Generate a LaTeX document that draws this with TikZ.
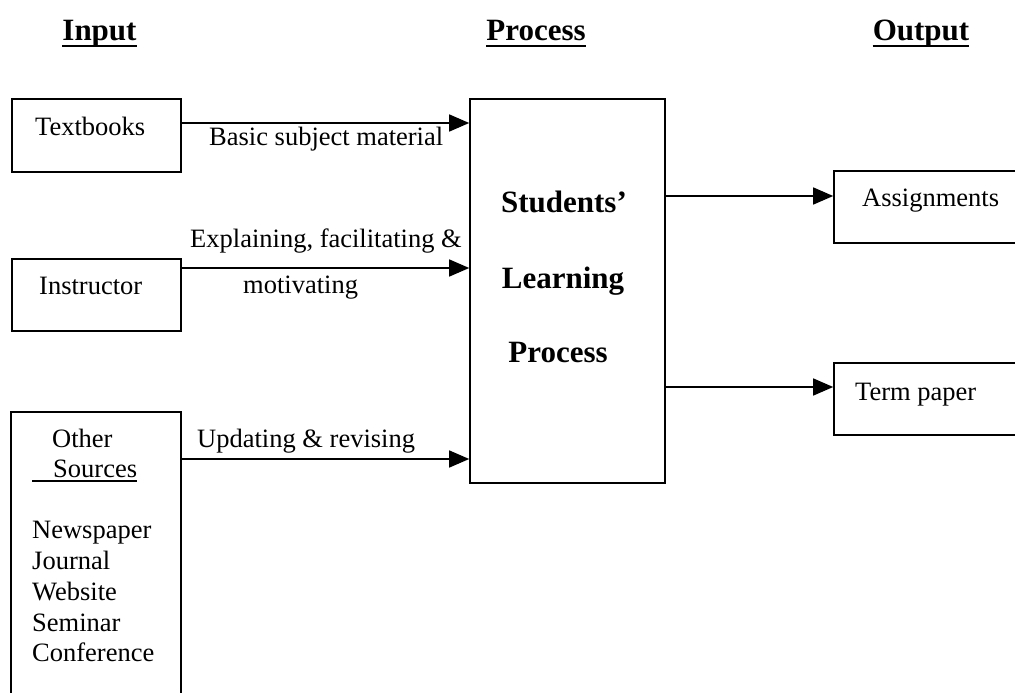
\documentclass[tikz,border=0pt]{standalone}
\usepackage{fontspec}
\setmainfont{Liberation Serif}
\usetikzlibrary{arrows.meta,calc}
\begin{document}
\begin{tikzpicture}[x=1pt,y=-1pt,
  box/.style={draw,line width=1.6pt,rectangle,inner sep=0pt},
  txt/.style={inner sep=0pt,font=\fontsize{26.5}{31}\selectfont},
  head/.style={inner sep=0pt,anchor=base,font=\fontsize{31}{36}\selectfont\bfseries},
  big/.style={inner sep=0pt,anchor=base,font=\fontsize{31}{36}\selectfont\bfseries},
  arr/.style={line width=1.4pt,-{Triangle[length=20pt,width=17pt]}},
  uline/.style={line width=2pt}]
\clip (0,0) rectangle (1015,693);
\fill[white] (0,0) rectangle (1015,693);
% headings
\node[head] (hin) at (99.5,41) {Input};
\node[head] (hpr) at (536,41) {Process};
\node[head] (hout) at (921,41) {Output};
\draw[uline] ($(hin.base west)+(0,5)$) -- ($(hin.base east)+(0,5)$);
\draw[uline] ($(hpr.base west)+(0,5)$) -- ($(hpr.base east)+(0,5)$);
\draw[uline] ($(hout.base west)+(0,5)$) -- ($(hout.base east)+(0,5)$);
% boxes
\node[box,minimum width=169pt,minimum height=73pt] (tb) at (96.5,135.5) {};
\node[box,minimum width=169pt,minimum height=72pt] (ins) at (96.5,295) {};
\node[box,minimum width=170pt,minimum height=298pt] (oth) at (96,561) {};
\node[box,minimum width=195pt,minimum height=384pt] (proc) at (567.5,291) {};
\node[box,minimum width=201pt,minimum height=72pt] (asg) at (934.5,207) {};
\node[box,minimum width=201pt,minimum height=72pt] (term) at (934.5,399) {};
% box texts
\node[txt,anchor=base west] (ttb) at (35,135) {Textbooks};
\node[txt,anchor=base west] (tins) at (39,294) {Instructor};
\node[txt,anchor=base west] (toth) at (52,447) {Other};
\node[txt,anchor=base west] (tsrc) at (53,477) {Sources};
\draw[line width=1.5pt] (32,481) -- (tsrc.base east |- 0,481);
\node[txt,anchor=base west] (l1) at (32,538) {Newspaper};
\node[txt,anchor=base west] (l2) at (32,569) {Journal};
\node[txt,anchor=base west] (l3) at (32,600) {Website};
\node[txt,anchor=base west] (l4) at (32,631) {Seminar};
\node[txt,anchor=base west] (l5) at (32,661) {Conference};
\node[big] (s1) at (564,212) {Students’};
\node[big] (s2) at (563,288) {Learning};
\node[big] (s3) at (558,362) {Process};
\node[txt,anchor=base west] (tasg) at (862,206) {Assignments};
\node[txt,anchor=base west] (tterm) at (855,400) {Term paper};
% connector labels
\node[txt,anchor=base west] (lb1) at (209,145) {Basic subject material};
\node[txt,anchor=base west] (lb2) at (190,247) {Explaining, facilitating \&};
\node[txt,anchor=base west] (lb3) at (243,293) {motivating};
\node[txt,anchor=base west] (lb4) at (197,447) {Updating \& revising};
% connectors
\draw[arr] (tb.east |- 0,123) -- (proc.west |- 0,123);
\draw[arr] (ins.east |- 0,268) -- (proc.west |- 0,268);
\draw[arr] (oth.east |- 0,459) -- (proc.west |- 0,459);
\draw[arr] (proc.east |- 0,196) -- (asg.west |- 0,196);
\draw[arr] (proc.east |- 0,387) -- (term.west |- 0,387);
\end{tikzpicture}
\end{document}
